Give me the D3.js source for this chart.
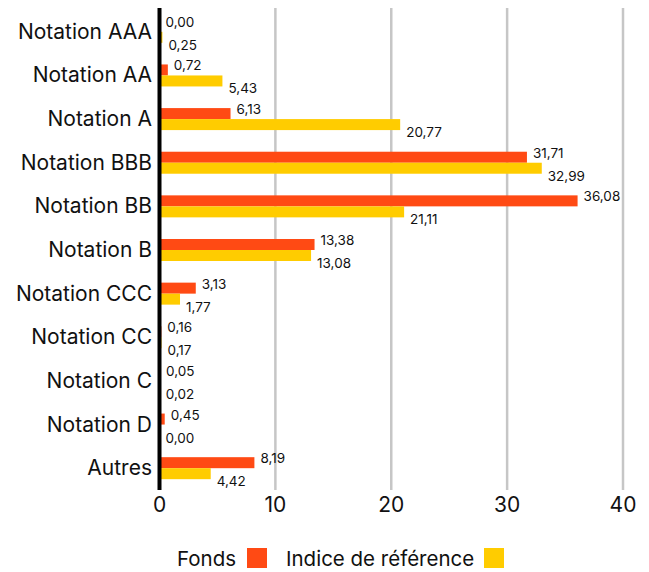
<!DOCTYPE html>
<html>
<head>
<meta charset="utf-8">
<script src="https://cdn.jsdelivr.net/npm/d3@7"></script>
<style>
  body { margin: 0; background: #fff; }
  text { font-family: Inter, "Noto Sans", sans-serif; fill: #111; }
</style>
</head>
<body>
<div id="chart"></div>
<script>
// data
var categories = ["Notation AAA", "Notation AA", "Notation A", "Notation BBB", "Notation BB",
                  "Notation B", "Notation CCC", "Notation CC", "Notation C", "Notation D", "Autres"];
var fonds = [0.00, 0.72, 6.13, 31.71, 36.08, 13.38, 3.13, 0.16, 0.05, 0.45, 8.19];
var indice = [0.25, 5.43, 20.77, 32.99, 21.11, 13.08, 1.77, 0.17, 0.02, 0.00, 4.42];
var xTicks = [0, 10, 20, 30, 40];
var seriesNames = ["Fonds", "Indice de référence"];
var colors = ["#ff4a14", "#ffcc00"];

var width = 649, height = 572;

var svg = d3.select("#chart")
  .append("svg")
    .attr("width", width)
    .attr("height", height);

var x = d3.scaleLinear()
  .domain([0, 40])
  .range([159.5, 623]);

var y = d3.scaleBand()
  .domain(categories)
  .range([10, 490]);

var barH = 11;
var fmt = function(v) { return v.toFixed(2).replace(".", ","); };

// gridlines
svg.append("g")
  .selectAll("line")
  .data(xTicks.slice(1))
  .enter()
  .append("line")
    .attr("x1", function(d) { return x(d); })
    .attr("x2", function(d) { return x(d); })
    .attr("y1", 8)
    .attr("y2", 490)
    .attr("stroke", "#c6c6c6")
    .attr("stroke-width", 2.5);

// bars
var rows = svg.append("g")
  .selectAll("g")
  .data(categories)
  .enter()
  .append("g")
    .attr("transform", function(d) { return "translate(0," + (y(d) + y.bandwidth() / 2) + ")"; });

rows.append("rect")
  .attr("x", x(0))
  .attr("y", -barH)
  .attr("width", function(d, i) { return x(fonds[i]) - x(0); })
  .attr("height", barH)
  .attr("fill", colors[0]);

rows.append("rect")
  .attr("x", x(0))
  .attr("y", 0)
  .attr("width", function(d, i) { return x(indice[i]) - x(0); })
  .attr("height", barH)
  .attr("fill", colors[1]);

// value labels
rows.append("text")
  .attr("x", function(d, i) { return x(fonds[i]) + 6; })
  .attr("y", -5)
  .attr("font-size", "13.5px")
  .text(function(d, i) { return fmt(fonds[i]); });

rows.append("text")
  .attr("x", function(d, i) { return x(indice[i]) + 6; })
  .attr("y", 18)
  .attr("font-size", "13.5px")
  .text(function(d, i) { return fmt(indice[i]); });

// category labels
rows.append("text")
  .attr("x", 152)
  .attr("y", 7)
  .attr("text-anchor", "end")
  .attr("font-size", "21px")
  .text(function(d) { return d; });

// zero axis
svg.append("line")
  .attr("x1", x(0))
  .attr("x2", x(0))
  .attr("y1", 8)
  .attr("y2", 490)
  .attr("stroke", "#000")
  .attr("stroke-width", 4);

// x axis tick labels
svg.append("g")
  .selectAll("text")
  .data(xTicks)
  .enter()
  .append("text")
    .attr("x", function(d) { return x(d); })
    .attr("y", 512)
    .attr("text-anchor", "middle")
    .attr("font-size", "21px")
    .text(function(d) { return d; });

// legend
var legend = svg.append("g");
legend.append("text")
  .attr("x", 177).attr("y", 566)
  .attr("font-size", "20.5px")
  .text(seriesNames[0]);
legend.append("rect")
  .attr("x", 247).attr("y", 548).attr("width", 20).attr("height", 20)
  .attr("fill", colors[0]);
legend.append("text")
  .attr("x", 286).attr("y", 566)
  .attr("font-size", "20.5px")
  .text(seriesNames[1]);
legend.append("rect")
  .attr("x", 484).attr("y", 548).attr("width", 20).attr("height", 20)
  .attr("fill", colors[1]);
</script>
</body>
</html>
